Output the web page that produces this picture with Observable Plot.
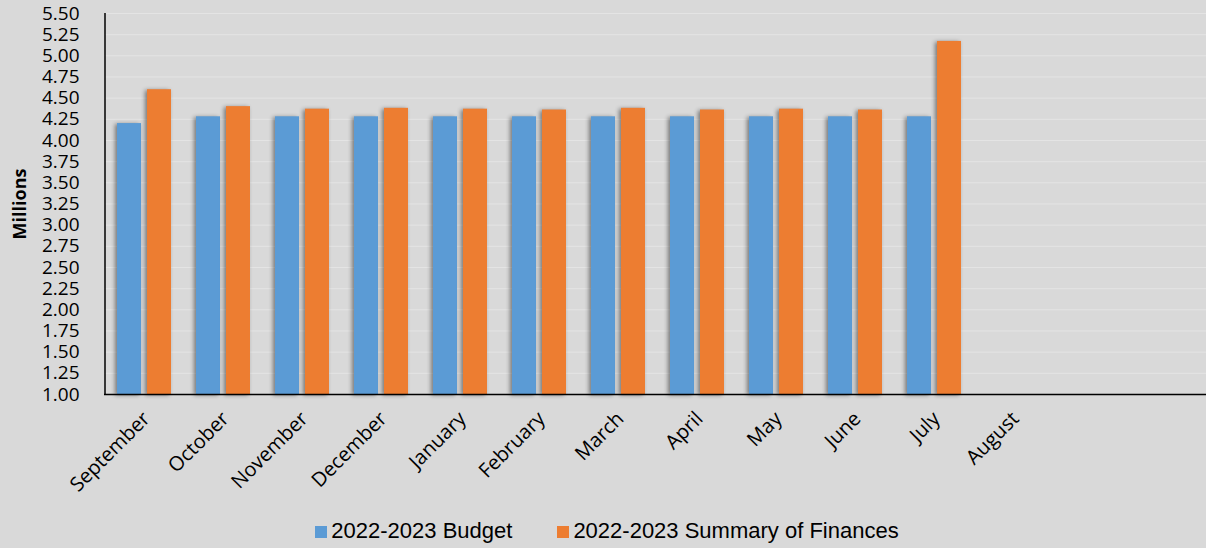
<!DOCTYPE html>
<html><head><meta charset="utf-8">
<script src="https://cdn.jsdelivr.net/npm/d3@7"></script>
<script src="https://cdn.jsdelivr.net/npm/@observablehq/plot@0.6"></script>
<style>
html,body{margin:0;padding:0;background:#d9d9d9;}
#chart{width:1206px;height:548px;position:relative;overflow:hidden;}
.legend{display:flex;justify-content:center;gap:45px;padding-left:8px;margin-top:9px;font-family:"Liberation Sans",Arial,sans-serif;font-size:22px;line-height:24px;color:#000;}
.legend .item{display:flex;align-items:center;}
.legend .sw{width:12px;height:12px;margin-right:4px;margin-top:1px;}
</style></head><body><div id="chart"></div><script>
const months = ["September","October","November","December","January","February","March","April","May","June","July","August"];
const seriesNames = ["2022-2023 Budget","2022-2023 Summary of Finances"];
const seriesColors = ["#5b9bd5","#ed7d31"];
const budget = [4.20,4.28,4.28,4.28,4.28,4.28,4.28,4.28,4.28,4.28,4.28,null];
const summary = [4.60,4.40,4.37,4.38,4.37,4.36,4.38,4.36,4.37,4.36,5.17,null];
const yTicks = [1.00,1.25,1.50,1.75,2.00,2.25,2.50,2.75,3.00,3.25,3.50,3.75,4.00,4.25,4.50,4.75,5.00,5.25,5.50];
const yLabel = "Millions";

const rows = [];
months.forEach((m,i)=>{
  if (budget[i]!=null) rows.push({month:m, series:seriesNames[0], value:budget[i]});
  if (summary[i]!=null) rows.push({month:m, series:seriesNames[1], value:summary[i]});
});

const plot = Plot.plot({
  width:1206, height:510,
  marginLeft:104, marginRight:0, marginTop:13, marginBottom:116,
  style:{background:"transparent", fontFamily:"'Open Sans', sans-serif", fontSize:"19px", color:"#000"},
  x:{domain:months, range:[104.5,1052.5], paddingInner:0.316, paddingOuter:0.158, label:null},
  y:{domain:[1,5.5], label:null},
  color:{domain:seriesNames, range:seriesColors},
  marks:[
    Plot.gridY(yTicks,{stroke:"#e4e4e4", strokeOpacity:1, strokeWidth:1}),
    Plot.barY(rows.filter(d=>d.series===seriesNames[0]),{x:"month", y1:1, y2:"value", fill:"series", insetRight:30}),
    Plot.barY(rows.filter(d=>d.series===seriesNames[1]),{x:"month", y1:1, y2:"value", fill:"series", insetLeft:30}),
    Plot.ruleY([1],{stroke:"#000", strokeWidth:1.5}),
    Plot.ruleX([months[0]],{dx:-39.5, y1:1, y2:5.5, stroke:"#000", strokeWidth:1.5}),
    Plot.axisY({ticks:yTicks, tickSize:0, tickPadding:25, tickFormat:d=>d.toFixed(2), label:null}),
    Plot.axisX({tickSize:0, tickPadding:21, tickRotate:-45, fontSize:"20px", dx:2, label:null}),
    Plot.text([yLabel],{frameAnchor:"left", textAnchor:"middle", lineAnchor:"middle", rotate:-90, dx:-84, dy:0, fontWeight:"bold", fontSize:18})
  ]
});
d3.select(plot).selectAll('g[aria-label="bar"]').style("filter","drop-shadow(-2px 1px 2px rgba(0,0,0,0.45))");
document.getElementById("chart").appendChild(plot);

const cs = plot.scale("color");
const leg = d3.select("#chart").append("div").attr("class","legend");
seriesNames.forEach(name=>{
  const it = leg.append("div").attr("class","item");
  it.append("div").attr("class","sw").style("background", cs.apply(name));
  it.append("span").text(name);
});
</script></body></html>
